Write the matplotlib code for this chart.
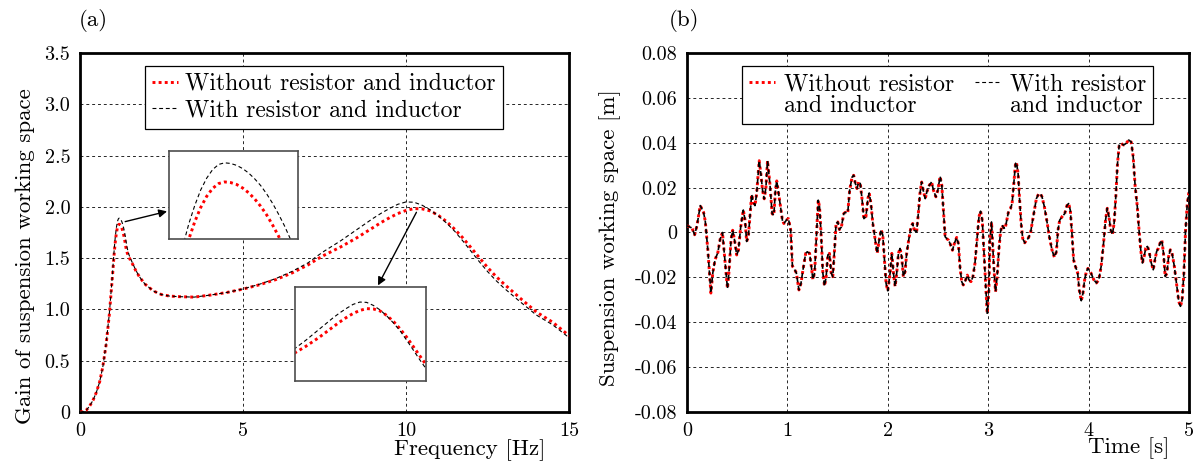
import matplotlib
matplotlib.use('Agg')
import matplotlib.pyplot as plt
from matplotlib.lines import Line2D
from matplotlib.font_manager import FontProperties

plt.rcParams['font.family'] = ['cmr10', 'DejaVu Serif']
plt.rcParams['axes.unicode_minus'] = False
plt.rcParams['mathtext.fontset'] = 'cm'
plt.rcParams['axes.formatter.use_mathtext'] = True

# ---------------- data: panel (a) ----------------
freq_hz = [0, 0.1, 0.2, 0.3, 0.4, 0.5, 0.6, 0.7, 0.8, 0.9,
           1.00, 1.02, 1.04, 1.06, 1.08, 1.10, 1.12, 1.14, 1.16, 1.18, 1.20,
           1.22, 1.24, 1.26, 1.28, 1.30, 1.32, 1.34, 1.36, 1.38, 1.40, 1.42,
           1.45, 1.50, 1.55, 1.60, 1.70, 1.80, 1.90, 2.00,
           2.25, 2.50, 2.75, 3.0, 3.5, 4.0, 4.5, 5.0, 5.5, 6.0, 6.5, 7.0,
           7.25, 7.5, 7.75, 8.0, 8.25, 8.5, 8.75, 9.0, 9.25, 9.5, 9.75, 10.0,
           10.25, 10.5, 10.75, 11.0, 11.25, 11.5, 11.75, 12.0, 12.25, 12.5, 12.75, 13.0,
           13.5, 14.0, 14.5, 15.0]

gain_with = [0, 0.005, 0.02, 0.06, 0.115, 0.19, 0.29, 0.44, 0.66, 0.96,
             1.36, 1.46, 1.545, 1.628, 1.698, 1.756, 1.805, 1.842, 1.869, 1.885, 1.890,
             1.888, 1.882, 1.872, 1.858, 1.840, 1.819, 1.793, 1.763, 1.729, 1.692, 1.650,
             1.595, 1.535, 1.495, 1.46, 1.39, 1.33, 1.285, 1.245,
             1.18, 1.145, 1.13, 1.125, 1.12, 1.14, 1.165, 1.20, 1.245, 1.30, 1.37, 1.455,
             1.515, 1.57, 1.62, 1.67, 1.725, 1.78, 1.835, 1.89, 1.94, 1.985, 2.025, 2.048,
             2.045, 2.015, 1.97, 1.91, 1.84, 1.76, 1.665, 1.565, 1.465, 1.37, 1.285, 1.21,
             1.075, 0.945, 0.85, 0.725]

gain_without = [0, 0.005, 0.02, 0.06, 0.115, 0.19, 0.29, 0.44, 0.655, 0.95,
                1.34, 1.425, 1.51, 1.585, 1.65, 1.705, 1.75, 1.785, 1.81, 1.825, 1.83,
                1.828, 1.822, 1.811, 1.796, 1.777, 1.754, 1.727, 1.695, 1.66, 1.62, 1.585,
                1.55, 1.51, 1.478, 1.45, 1.385, 1.33, 1.285, 1.245,
                1.18, 1.145, 1.13, 1.125, 1.12, 1.14, 1.165, 1.198, 1.24, 1.29, 1.355, 1.435,
                1.485, 1.53, 1.57, 1.61, 1.655, 1.70, 1.75, 1.80, 1.85, 1.895, 1.935, 1.965,
                1.983, 1.98, 1.96, 1.915, 1.855, 1.78, 1.695, 1.60, 1.505, 1.41, 1.325, 1.25,
                1.11, 0.975, 0.875, 0.745]

# ---------------- data: panel (b) ----------------
time_s = [0.000, 0.050, 0.076, 0.099, 0.132, 0.165, 0.182, 0.208, 0.238, 0.257,
          0.280, 0.307, 0.330, 0.353, 0.363, 0.380, 0.403, 0.419, 0.439, 0.455,
          0.472, 0.495, 0.512, 0.535, 0.561, 0.578, 0.594, 0.611, 0.627, 0.644,
          0.660, 0.677, 0.693, 0.719, 0.736, 0.752, 0.769, 0.786, 0.802, 0.825,
          0.848, 0.865, 0.881, 0.894, 0.914, 0.930, 0.950, 0.965, 0.990, 1.010,
          1.033, 1.050, 1.066, 1.089, 1.115, 1.135, 1.155, 1.182, 1.198, 1.221,
          1.238, 1.254, 1.271, 1.287, 1.307, 1.320, 1.337, 1.353, 1.370, 1.386,
          1.403, 1.419, 1.436, 1.452, 1.469, 1.485, 1.502, 1.518, 1.538, 1.561,
          1.578, 1.601, 1.620, 1.644, 1.660, 1.677, 1.693, 1.710, 1.726, 1.743,
          1.762, 1.782, 1.802, 1.815, 1.832, 1.851, 1.875, 1.894, 1.914, 1.934,
          1.950, 1.967, 1.983, 2.000, 2.023, 2.040, 2.056, 2.073, 2.089, 2.106,
          2.122, 2.139, 2.155, 2.172, 2.188, 2.208, 2.231, 2.248, 2.264, 2.287,
          2.304, 2.320, 2.337, 2.353, 2.373, 2.389, 2.413, 2.436, 2.455, 2.479,
          2.498, 2.521, 2.538, 2.554, 2.571, 2.587, 2.604, 2.620, 2.644, 2.663,
          2.686, 2.703, 2.719, 2.736, 2.752, 2.769, 2.792, 2.809, 2.828, 2.848,
          2.868, 2.888, 2.908, 2.924, 2.941, 2.957, 2.974, 2.990, 3.007, 3.017,
          3.033, 3.056, 3.073, 3.089, 3.106, 3.123, 3.139, 3.156, 3.172, 3.189,
          3.205, 3.222, 3.238, 3.255, 3.272, 3.281, 3.298, 3.311, 3.328, 3.344,
          3.364, 3.381, 3.397, 3.421, 3.437, 3.460, 3.480, 3.503, 3.520, 3.536,
          3.560, 3.586, 3.609, 3.636, 3.659, 3.679, 3.695, 3.712, 3.735, 3.762,
          3.785, 3.801, 3.818, 3.834, 3.851, 3.868, 3.891, 3.907, 3.927, 3.944,
          3.960, 3.977, 3.993, 4.024, 4.051, 4.078, 4.102, 4.125, 4.146, 4.169,
          4.186, 4.203, 4.220, 4.237, 4.254, 4.271, 4.288, 4.305, 4.322, 4.349,
          4.373, 4.400, 4.424, 4.444, 4.464, 4.485, 4.502, 4.519, 4.536, 4.553,
          4.569, 4.586, 4.603, 4.620, 4.644, 4.661, 4.678, 4.695, 4.712, 4.729,
          4.746, 4.763, 4.780, 4.797, 4.814, 4.831, 4.854, 4.875, 4.898, 4.915,
          4.932, 4.949, 4.966, 4.983, 5.000]

sws_without = [0.0030, 0.0020, -0.0010, 0.0030, 0.0120, 0.0090, 0.0050, -0.0080, -0.0270, -0.0180,
               -0.0120, -0.0090, -0.0030, 0.0000, -0.0050, -0.0140, -0.0250, -0.0170, -0.0030, 0.0010,
               -0.0030, -0.0100, -0.0080, 0.0025, 0.0100, 0.0055, -0.0040, -0.0020, 0.0070, 0.0170,
               0.0136, 0.0120, 0.0170, 0.0320, 0.0260, 0.0190, 0.0150, 0.0200, 0.0320, 0.0220,
               0.0084, 0.0077, 0.0190, 0.0230, 0.0170, 0.0120, 0.0055, 0.0040, 0.0055, 0.0062,
               0.0010, -0.0150, -0.0160, -0.0180, -0.0256, -0.0227, -0.0167, -0.0093, -0.0086, -0.0093,
               -0.0150, -0.0210, -0.0180, -0.0034, 0.0144, 0.0114, -0.0019, -0.0180, -0.0239, -0.0197,
               -0.0100, -0.0093, -0.0180, -0.0197, -0.0079, 0.0040, 0.0047, 0.0013, 0.0025, 0.0084,
               0.0090, 0.0087, 0.0188, 0.0247, 0.0255, 0.0218, 0.0196, 0.0225, 0.0218, 0.0151,
               0.0062, 0.0070, 0.0151, 0.0176, 0.0129, 0.0040, -0.0034, -0.0093, -0.0034, 0.0013,
               -0.0012, -0.0123, -0.0227, -0.0260, -0.0180, -0.0093, -0.0180, -0.0241, -0.0180, -0.0093,
               -0.0071, -0.0110, -0.0197, -0.0175, -0.0093, -0.0034, 0.0025, 0.0040, 0.0010, 0.0003,
               0.0084, 0.0173, 0.0225, 0.0188, 0.0151, 0.0181, 0.0210, 0.0225, 0.0188, 0.0159,
               0.0188, 0.0250, 0.0210, 0.0099, -0.0019, -0.0027, -0.0034, -0.0049, -0.0079, -0.0049,
               -0.0022, -0.0049, -0.0153, -0.0219, -0.0234, -0.0219, -0.0190, -0.0212, -0.0219, -0.0197,
               -0.0138, -0.0034, 0.0070, 0.0095, 0.0055, -0.0079, -0.0227, -0.0360, -0.0256, -0.0034,
               0.0047, -0.0153, -0.0264, -0.0197, -0.0079, 0.0003, 0.0033, 0.0018, 0.0025, 0.0062,
               0.0099, 0.0107, 0.0129, 0.0218, 0.0307, 0.0314, 0.0262, 0.0159, 0.0040, -0.0027,
               -0.0046, -0.0034, -0.0027, -0.0004, 0.0040, 0.0099, 0.0151, 0.0173, 0.0173, 0.0159,
               0.0114, 0.0047, -0.0019, -0.0079, -0.0110, -0.0086, 0.0010, 0.0055, 0.0070, 0.0084,
               0.0121, 0.0129, 0.0099, -0.0004, -0.0123, -0.0150, -0.0180, -0.0256, -0.0304, -0.0271,
               -0.0212, -0.0175, -0.0160, -0.0181, -0.0210, -0.0225, -0.0210, -0.0151, -0.0062, 0.0056,
               0.0108, 0.0071, 0.0012, -0.0010, 0.0041, 0.0160, 0.0308, 0.0390, 0.0397, 0.0390,
               0.0397, 0.0412, 0.0404, 0.0338, 0.0204, 0.0116, 0.0012, -0.0077, -0.0136, -0.0107,
               -0.0070, -0.0062, -0.0084, -0.0129, -0.0166, -0.0121, -0.0084, -0.0070, -0.0047, -0.0033,
               -0.0092, -0.0196, -0.0181, -0.0107, -0.0077, -0.0092, -0.0151, -0.0225, -0.0307, -0.0329,
               -0.0299, -0.0181, 0.0012, 0.0130, 0.0182]
sws_with = list(sws_without)

legend_labels_a = ['Without resistor and inductor', 'With resistor and inductor']
freq_ticks = [0, 5, 10, 15]
gain_ticks = [0, 0.5, 1.0, 1.5, 2.0, 2.5, 3.0, 3.5]
gain_ticklabels = ['0', '0.5', '1.0', '1.5', '2.0', '2.5', '3.0', '3.5']
time_ticks = [0, 1, 2, 3, 4, 5]
sws_ticks = [-0.08, -0.06, -0.04, -0.02, 0, 0.02, 0.04, 0.06, 0.08]
sws_ticklabels = ['-0.08', '-0.06', '-0.04', '-0.02', '0', '0.02', '0.04', '0.06', '0.08']

# ---------------- styles ----------------
FS = 14.5
FS_L = 16.5
FS_LEG = 17.1
FP = FontProperties(family='cmr10', size=FS_L)
FP_LEG = FontProperties(family='cmr10', size=FS_LEG)
RED = dict(color='red', linestyle=(0, (1, 1.1)), lw=2.1)
BLK = dict(color='black', linestyle=(0, (3.5, 2.5)), lw=0.8)
BLK_B = dict(color='black', linestyle=(0, (3, 2)), lw=1.2)
GRID = dict(color='0.15', linestyle=(0, (3, 3)), lw=0.7)

W, H = 1202, 468
fig = plt.figure(figsize=(W / 100, H / 100), dpi=100)


def style_axes(ax):
    for s in ax.spines.values():
        s.set_linewidth(2.0)
        s.set_color('black')
    ax.tick_params(direction='in', length=0, labelsize=FS, pad=7)
    ax.grid(True, **GRID)
    ax.set_axisbelow(True)


def fix_legend(leg):
    leg.get_frame().set_linewidth(0.9)
    leg.set_zorder(10)
    for t in leg.get_texts():
        t.set_fontfamily('cmr10')
        t.set_fontsize(FS_LEG)


# ---------------- panel (a) ----------------
axL = fig.add_axes([80 / W, 1 - 412 / H, 489 / W, 359 / H])
axL.plot(freq_hz, gain_without, **RED, label=legend_labels_a[0], zorder=3)
axL.plot(freq_hz, gain_with, **BLK, label=legend_labels_a[1], zorder=4)
axL.set_xlim(0, 15)
axL.set_ylim(0, 3.5)
axL.set_xticks(freq_ticks)
axL.set_xticklabels([str(v) for v in freq_ticks])
axL.set_yticks(gain_ticks)
axL.set_yticklabels(gain_ticklabels)
style_axes(axL)
legL = axL.legend(loc='upper left', bbox_to_anchor=(0.133, 0.965), borderaxespad=0,
                  fancybox=False, edgecolor='black', framealpha=1, prop=FP_LEG,
                  handlelength=1.1, handletextpad=0.3, labelspacing=0.19, borderpad=0.3)
fix_legend(legL)

axL.annotate('', xy=(2.67, 1.956), xytext=(1.386, 1.856),
             arrowprops=dict(arrowstyle='-|>', color='black', lw=1.0,
                             mutation_scale=12, shrinkA=0, shrinkB=0), zorder=6)
axL.annotate('', xy=(9.14, 1.234), xytext=(10.32, 1.947),
             arrowprops=dict(arrowstyle='-|>', color='black', lw=1.0,
                             mutation_scale=12, shrinkA=0, shrinkB=0), zorder=6)

fig.text(25 / W, 1 - 256 / H, 'Gain of suspension working space', rotation=90,
         ha='center', va='center', fontproperties=FP)
axL.text(0.951, -0.105, 'Frequency [Hz]', transform=axL.transAxes, ha='right',
         va='center', fontproperties=FP)
fig.text(93 / W, 1 - 21 / H, '(a)', ha='center', va='center', fontproperties=FP)

# insets
def make_inset(rect, xlim, ylim):
    ins = fig.add_axes(rect)
    ins.plot(freq_hz, gain_without, **RED)
    ins.plot(freq_hz, gain_with, **BLK)
    ins.set_xlim(*xlim)
    ins.set_ylim(*ylim)
    ins.set_xticks([])
    ins.set_yticks([])
    ins.set_facecolor('white')
    for s in ins.spines.values():
        s.set_linewidth(1.2)
        s.set_color('0.3')
    ins.set_zorder(8)
    return ins

make_inset([169.3 / W, 1 - 239.3 / H, 128.7 / W, 88.6 / H], (1.015, 1.445), (1.65, 1.928))
make_inset([295 / W, 1 - 380.7 / H, 131 / W, 94 / H], (7.6, 12.45), (1.27, 2.2))

# ---------------- panel (b) ----------------
axR = fig.add_axes([687 / W, 1 - 412 / H, 502 / W, 359 / H])
axR.plot(time_s, sws_without, **RED, zorder=3)
axR.plot(time_s, sws_with, **BLK_B, zorder=4)
axR.set_xlim(0, 5)
axR.set_ylim(-0.08, 0.08)
axR.set_xticks(time_ticks)
axR.set_xticklabels([str(v) for v in time_ticks])
axR.set_yticks(sws_ticks)
axR.set_yticklabels(sws_ticklabels)
style_axes(axR)

blank = Line2D([], [], linestyle='none')
hR = [Line2D([], [], **RED), blank, Line2D([], [], **BLK), blank]
lR = ['Without resistor', 'and inductor', 'With resistor', 'and inductor']
legR = axR.legend(hR, lR, ncol=2, loc='upper left', bbox_to_anchor=(0.11, 0.964),
                  borderaxespad=0, fancybox=False, edgecolor='black', framealpha=1,
                  prop=FP_LEG, handlelength=1.1, handletextpad=0.38, labelspacing=-0.02,
                  borderpad=0.3, columnspacing=0.85)
fix_legend(legR)

fig.text(610 / W, 1 - 238 / H, 'Suspension working space [m]', rotation=90,
         ha='center', va='center', fontproperties=FP)
axR.text(0.962, -0.1, 'Time [s]', transform=axR.transAxes, ha='right',
         va='center', fontproperties=FP)
fig.text(684 / W, 1 - 21 / H, '(b)', ha='center', va='center', fontproperties=FP)

fig.savefig('out.png', dpi=100)
